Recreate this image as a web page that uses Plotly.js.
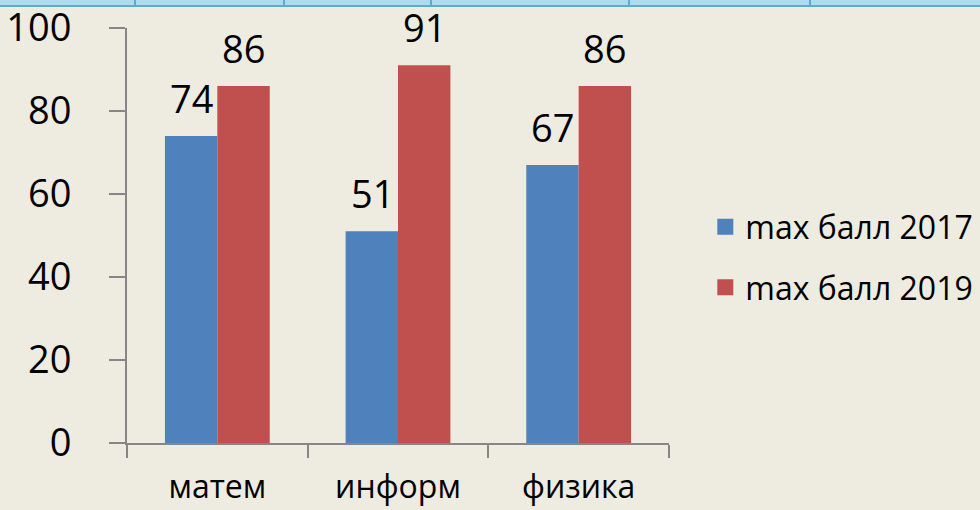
<!DOCTYPE html>
<html>
<head>
<meta charset="utf-8">
<script src="https://cdn.plot.ly/plotly-3.0.1.min.js"></script>
<style>
  html, body { margin: 0; padding: 0; background: #EEEBE0; }
  #wrap { position: relative; width: 980px; height: 510px; overflow: hidden; }
  #chart { position: absolute; left: 0; top: 0; width: 980px; height: 510px; }
  #band { position: absolute; left: 0; top: 0; width: 980px; height: 5px; background: #AEDCEA; border-bottom: 2px solid #5AAFD0; z-index: 2; }
  .vl { position: absolute; top: 0; width: 2px; height: 5px; background: #5AAFD0; }
</style>
</head>
<body>
<div id="wrap">
  <div id="band">
    <div class="vl" style="left:134px"></div>
    <div class="vl" style="left:283px"></div>
    <div class="vl" style="left:430px"></div>
    <div class="vl" style="left:628px"></div>
    <div class="vl" style="left:809px"></div>
  </div>
  <div id="chart"></div>
</div>
<script>
const categories = ["матем", "информ", "физика"];
const series2017 = [74, 51, 67];
const series2019 = [86, 91, 86];
const seriesNames = ["max балл 2017", "max балл 2019"];
const yTicks = [0, 20, 40, 60, 80, 100];

const FONT = "'Open Sans', 'Noto Sans', sans-serif";
const colors = ["#4F81BD", "#C0504D"];

const traces = [];
[series2017, series2019].forEach((vals, i) => {
  traces.push({
    type: "bar",
    name: seriesNames[i],
    x: categories,
    y: vals,
    marker: { color: colors[i], line: { width: 0 } },
    showlegend: false,
    hoverinfo: "none"
  });
});
// legend entries with larger square swatches
[0, 1].forEach(i => {
  traces.push({
    type: "scatter",
    mode: "markers",
    name: seriesNames[i],
    x: [null], y: [null],
    marker: { symbol: "square", size: 20, color: colors[i] },
    legendgroup: "g" + i,
    hoverinfo: "none"
  });
});

const annotations = [];
[series2017, series2019].forEach((vals, i) => {
  vals.forEach((v, j) => {
    annotations.push({
      x: categories[j], y: v, xref: "x", yref: "y",
      text: String(v), showarrow: false,
      xanchor: "center", yanchor: "bottom",
      xshift: i === 0 ? -26 : 26, yshift: 11,
      borderpad: 0,
      font: { family: FONT, size: 38, color: "#000" }
    });
  });
});

const layout = {
  width: 980, height: 510,
  paper_bgcolor: "#EEEBE0", plot_bgcolor: "#EEEBE0",
  margin: { l: 127, r: 311, t: 28, b: 67, autoexpand: false },
  barmode: "group",
  bargap: 0.42, bargroupgap: 0,
  showlegend: true,
  legend: {
    x: 1.067, y: 0.587, xanchor: "left", yanchor: "top",
    font: { family: FONT, size: 32, color: "#000" },
    tracegroupgap: 16, bgcolor: "rgba(0,0,0,0)",
    itemsizing: "trace"
  },
  xaxis: {
    type: "category",
    categoryarray: categories, categoryorder: "array",
    tickson: "boundaries",
    ticks: "outside", ticklen: 13, tickwidth: 2, tickcolor: "#868686",
    showline: true, linecolor: "#868686", linewidth: 2,
    showgrid: false, zeroline: false,
    tickfont: { family: FONT, size: 32, color: "#000" },
    ticklabelstandoff: 15
  },
  yaxis: {
    range: [0, 100],
    tickvals: yTicks,
    ticks: "outside", ticklen: 16, tickwidth: 2, tickcolor: "#868686",
    showline: true, linecolor: "#868686", linewidth: 2,
    showgrid: false, zeroline: false,
    tickfont: { family: FONT, size: 38, color: "#000" },
    ticklabelstandoff: 30
  },
  annotations: annotations
};

Plotly.newPlot("chart", traces, layout, { displayModeBar: false, staticPlot: true });
</script>
</body>
</html>
